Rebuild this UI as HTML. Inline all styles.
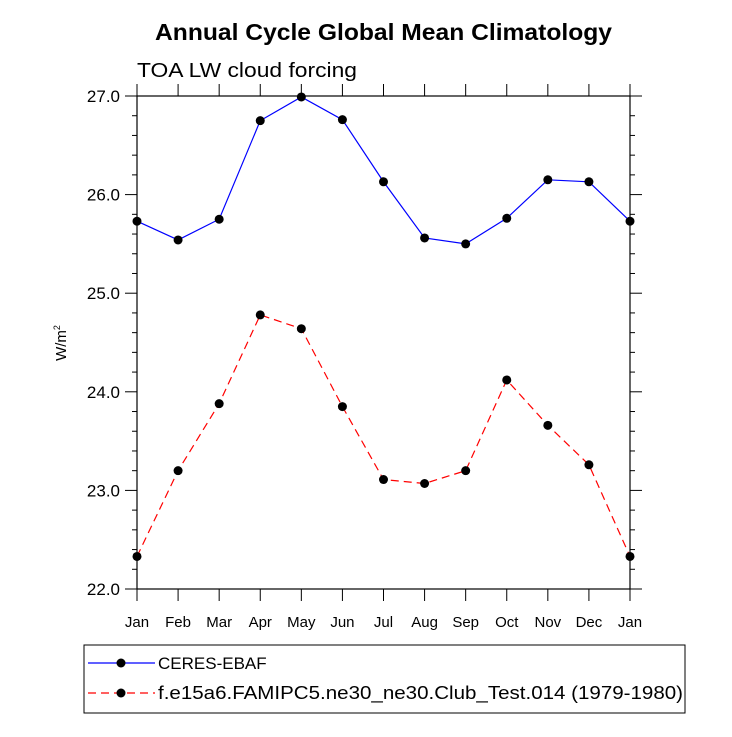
<!DOCTYPE html>
<html><head><meta charset="utf-8"><style>body{margin:0;background:#fff}svg{font-family:"Liberation Sans",sans-serif}</style></head>
<body>
<svg width="732" height="732" viewBox="0 0 732 732">
<text x="155" y="40" font-size="23" font-weight="bold" textLength="457" lengthAdjust="spacingAndGlyphs">Annual Cycle Global Mean Climatology</text>
<text x="137" y="77" font-size="20" textLength="220" lengthAdjust="spacingAndGlyphs">TOA LW cloud forcing</text>
<text transform="translate(66,343) rotate(-90)" text-anchor="middle" font-size="15">W/m<tspan font-size="9" dy="-6">2</tspan></text>
<g id="axes"></g>
<g id="series"></g>
<rect x="84" y="645" width="601" height="68" fill="none" stroke="#000" stroke-width="1"/>
<g>
<line x1="88" y1="663" x2="155" y2="663" stroke="#00f" stroke-width="1.2"/><circle cx="121" cy="663" r="4.5"/>
<text x="158" y="669" font-size="17">CERES-EBAF</text></g>
<g>
<line x1="88" y1="693" x2="155" y2="693" stroke="#f00" stroke-width="1.2" stroke-dasharray="8,5"/><circle cx="121" cy="693" r="4.5"/>
<text x="158" y="699" font-size="18" textLength="525" lengthAdjust="spacingAndGlyphs">f.e15a6.FAMIPC5.ne30_ne30.Club_Test.014 (1979-1980)</text></g>
</svg>
<script>
const months=["Jan","Feb","Mar","Apr","May","Jun","Jul","Aug","Sep","Oct","Nov","Dec","Jan"];
const ceres=[25.73,25.54,25.75,26.75,26.99,26.76,26.13,25.56,25.50,25.76,26.15,26.13,25.73];
const model=[22.33,23.20,23.88,24.78,24.64,23.85,23.11,23.07,23.20,24.12,23.66,23.26,22.33];
const yTicks=["22.0","23.0","24.0","25.0","26.0","27.0"];
const X0=137,X1=630,Y0=589,Y1=96,ymin=22,ymax=27;
const xs=i=>X0+(X1-X0)*i/(months.length-1);
const ys=v=>Y0-(Y0-Y1)*(v-ymin)/(ymax-ymin);
const NS="http://www.w3.org/2000/svg";
function mk(t,a,p){const e=document.createElementNS(NS,t);for(const k in a)e.setAttribute(k,a[k]);p.appendChild(e);return e;}
const ax=document.getElementById('axes');
const fr=mk('rect',{x:X0,y:Y1,width:X1-X0,height:Y0-Y1,fill:'none',stroke:'#000','stroke-width':1.2},ax);


months.forEach((m,i)=>{const x=xs(i);
mk('line',{x1:x,y1:Y0,x2:x,y2:Y0+12,stroke:'#000'},ax);
mk('line',{x1:x,y1:Y1,x2:x,y2:Y1-12,stroke:'#000'},ax);
const t=mk('text',{x:x,y:Y0+38,'text-anchor':'middle','font-size':15},ax);t.textContent=m;

});
for(let v=ymin;v<=ymax+1e-9;v+=0.2){const y=ys(v);const maj=Math.abs(v-Math.round(v))<1e-6;const L=maj?12:5;
mk('line',{x1:X0,y1:y,x2:X0-L,y2:y,stroke:'#000'},ax);
mk('line',{x1:X1,y1:y,x2:X1+L,y2:y,stroke:'#000'},ax);}
yTicks.forEach(s=>{const t=mk('text',{x:X0-17,y:ys(+s)+6,'text-anchor':'end','font-size':17},ax);t.textContent=s;

});
const sg=document.getElementById('series');
function draw(d,col,dash,name){const g=mk('g',{},sg);


mk('polyline',{points:d.map((v,i)=>xs(i)+','+ys(v)).join(' '),fill:'none',stroke:col,'stroke-width':1.2,'stroke-dasharray':dash},g);
d.forEach((v,i)=>{const c=mk('circle',{cx:xs(i),cy:ys(v),r:4.5},g);

});}
draw(ceres,'#00f','none','series-ceres');
draw(model,'#f00','8,5','series-model');
</script>
</body></html>
